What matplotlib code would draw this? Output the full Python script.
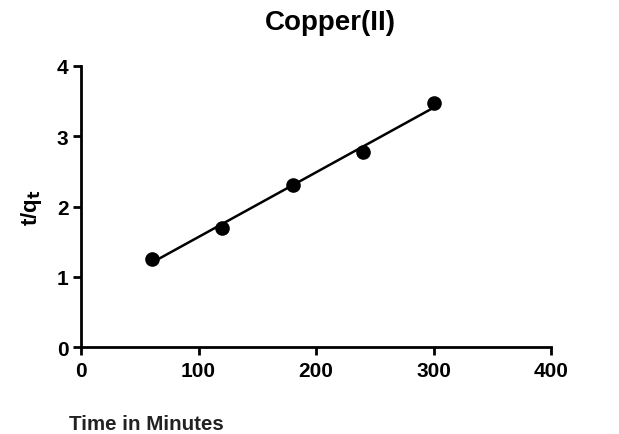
import numpy as np
import matplotlib
matplotlib.use("Agg")
from matplotlib import pyplot as plt

# --- Data ---
time_min = [60, 120, 180, 240, 300]
t_over_qt = [1.25, 1.70, 2.31, 2.78, 3.47]
x_ticks = [0, 100, 200, 300, 400]
y_ticks = [0, 1, 2, 3, 4]

plt.rcParams["font.family"] = ["Liberation Sans", "DejaVu Sans"]

W, H = 619, 435
fig = plt.figure(figsize=(W / 100, H / 100), dpi=100)
ax = fig.add_axes([81 / W, 1 - 348 / H, (551 - 81) / W, (348 - 67) / H])

# linear fit of t/qt against time
slope, intercept = np.polyfit(time_min, t_over_qt, 1)
fit_x = np.array([time_min[0], time_min[-1]])
ax.plot(fit_x, slope * fit_x + intercept, color="black", lw=1.8, zorder=2)
ax.plot(time_min, t_over_qt, "o", color="black", ms=9.5, zorder=3)

ax.set_xlim(0, 400)
ax.set_ylim(0, 4)
ax.set_xticks(x_ticks)
ax.set_yticks(y_ticks)
for side in ("top", "right"):
    ax.spines[side].set_visible(False)
for side in ("left", "bottom"):
    ax.spines[side].set_linewidth(2)
ax.tick_params(width=2, length=6, labelsize=15)
ax.tick_params(axis="x", pad=4)
ax.tick_params(axis="y", pad=3)
for lbl in ax.get_xticklabels() + ax.get_yticklabels():
    lbl.set_fontweight("bold")

ax.set_ylabel("t/q$_\\mathbf{t}$", fontsize=16, fontweight="bold", labelpad=9)

fig.text(330 / W, 1 - 30 / H, "Copper(II)", ha="center", va="baseline",
         fontsize=20, fontweight="bold")
fig.text(69 / W, 1 - 430 / H, "Time in Minutes", ha="left", va="baseline",
         fontsize=14.8, fontweight="bold",
         family=["Liberation Sans Narrow", "Liberation Sans", "DejaVu Sans"],
         color="#222222")

fig.savefig("out.png", dpi=100)
